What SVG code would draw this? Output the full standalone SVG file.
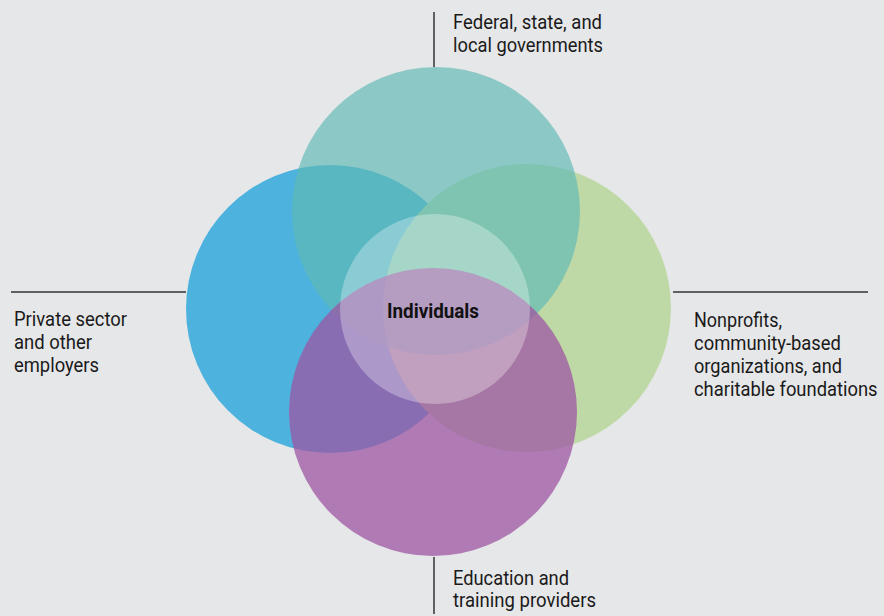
<svg xmlns="http://www.w3.org/2000/svg" width="884" height="616" viewBox="0 0 884 616">
  <style>
    .lbl { font-family: Roboto, "Liberation Sans", sans-serif; font-size: 20px; fill: #1a1a1a; }
    .ctr { font-family: Roboto, "Liberation Sans", sans-serif; font-size: 20px; font-weight: bold; fill: #111; }
    .rule { stroke: #333; stroke-width: 1.5; fill: none; }
  </style>
  <rect width="884" height="616" fill="#e6e7e8"/>

  <g id="connectors">
    <line class="rule" x1="434" y1="12" x2="434" y2="67"/>
    <line class="rule" x1="11" y1="292" x2="186" y2="292"/>
    <line class="rule" x1="673" y1="292" x2="868" y2="292"/>
    <line class="rule" x1="434" y1="557" x2="434" y2="614"/>
  </g>

  <g id="employers">
    <circle cx="330" cy="309" r="144" fill="#4db3de"/>
    <text class="lbl" x="14" y="326" textLength="113" lengthAdjust="spacingAndGlyphs">Private sector</text>
    <text class="lbl" x="14" y="349" textLength="78" lengthAdjust="spacingAndGlyphs">and other</text>
    <text class="lbl" x="14" y="372" textLength="85" lengthAdjust="spacingAndGlyphs">employers</text>
  </g>

  <g id="nonprofits">
    <circle cx="527" cy="308" r="144" fill="#bfd9a6"/>
    <text class="lbl" x="694" y="327" textLength="88" lengthAdjust="spacingAndGlyphs">Nonprofits,</text>
    <text class="lbl" x="694" y="350" textLength="147" lengthAdjust="spacingAndGlyphs">community-based</text>
    <text class="lbl" x="694" y="373" textLength="148" lengthAdjust="spacingAndGlyphs">organizations, and</text>
    <!-- narrowed with a transform so the natural box stays inside the canvas -->
    <text class="lbl" transform="translate(694 396) scale(0.9 1)" x="0" y="0" textLength="204" lengthAdjust="spacingAndGlyphs">charitable foundations</text>
  </g>

  <g id="governments">
    <circle cx="436" cy="211" r="144" fill="#60b9b5" fill-opacity="0.67"/>
    <text class="lbl" x="453" y="29" textLength="149" lengthAdjust="spacingAndGlyphs">Federal, state, and</text>
    <text class="lbl" x="453" y="52" textLength="150" lengthAdjust="spacingAndGlyphs">local governments</text>
  </g>

  <g id="education">
    <circle cx="433" cy="412" r="144" fill="#9e56a3" fill-opacity="0.75"/>
    <text class="lbl" x="453" y="585" textLength="116" lengthAdjust="spacingAndGlyphs">Education and</text>
    <text class="lbl" x="453" y="607" textLength="143" lengthAdjust="spacingAndGlyphs">training providers</text>
  </g>

  <g id="individuals">
    <circle cx="435" cy="309" r="95" fill="#ffffff" fill-opacity="0.3"/>
    <text class="ctr" x="387" y="318" textLength="92" lengthAdjust="spacingAndGlyphs">Individuals</text>
  </g>
</svg>
